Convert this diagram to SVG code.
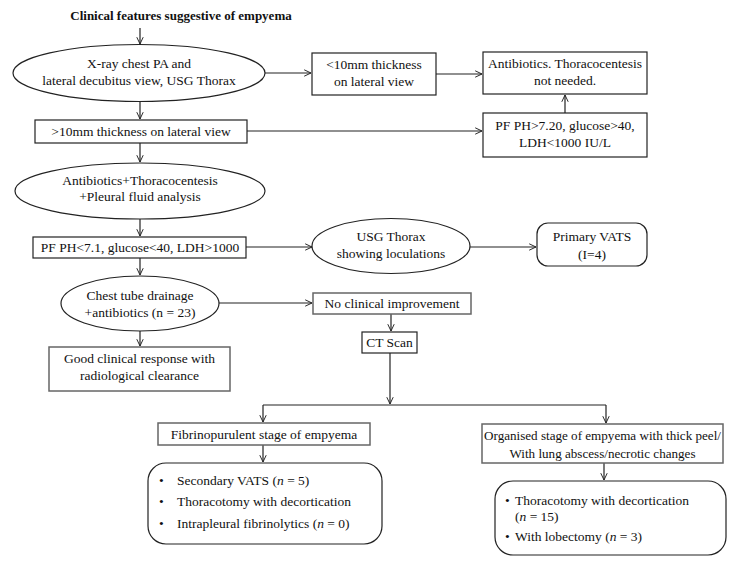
<svg xmlns="http://www.w3.org/2000/svg" width="738" height="564" viewBox="0 0 738 564">
<style>
text{font-family:"Liberation Serif","Times New Roman",serif;font-size:13.5px;fill:#111;text-anchor:middle}
.t{font-weight:bold;font-size:13px}
.s{font-size:13.1px}
.l{text-anchor:start}
.n{fill:#fff;stroke:#222;stroke-width:1.2}
.g{fill:#fff;stroke:#666;stroke-width:1.5}
.c{fill:none;stroke:#222;stroke-width:1.2}
</style>
<defs>
<marker id="a" viewBox="0 0 10 10" refX="9.5" refY="5" markerWidth="8" markerHeight="8" markerUnits="userSpaceOnUse" orient="auto">
<path d="M1,1 L9.5,5 L1,9" fill="none" stroke="#222" stroke-width="1.2"/>
</marker>
</defs>
<rect width="738" height="564" fill="#fff"/>
<g id="title"><text class="t" x="181" y="20">Clinical features suggestive of empyema</text></g>
<g id="connectors">
<path class="c" d="M140,28 V44" marker-end="url(#a)"/>
<path class="c" d="M265,73 H311" marker-end="url(#a)"/>
<path class="c" d="M436,74 H482" marker-end="url(#a)"/>
<path class="c" d="M565,113 V95" marker-end="url(#a)"/>
<path class="c" d="M140,102 V119" marker-end="url(#a)"/>
<path class="c" d="M247,131 H482" marker-end="url(#a)"/>
<path class="c" d="M140,143 V162" marker-end="url(#a)"/>
<path class="c" d="M140,219 V236" marker-end="url(#a)"/>
<path class="c" d="M246,247 H312" marker-end="url(#a)"/>
<path class="c" d="M470,247 H536" marker-end="url(#a)"/>
<path class="c" d="M140,258 V275" marker-end="url(#a)"/>
<path class="c" d="M219,303 H312" marker-end="url(#a)"/>
<path class="c" d="M391,314 V331" marker-end="url(#a)"/>
<path class="c" d="M140,331 V346" marker-end="url(#a)"/>
<path class="c" d="M390,353 V404" marker-end="url(#a)"/>
<path class="c" d="M263,405 H606"/>
<path class="c" d="M263,405 V422" marker-end="url(#a)"/>
<path class="c" d="M606,405 V423" marker-end="url(#a)"/>
<path class="c" d="M263,445 V462" marker-end="url(#a)"/>
<path class="c" d="M604,463 V480" marker-end="url(#a)"/>
</g>
<g id="xray"><ellipse class="n" cx="139" cy="73" rx="126" ry="28.5"/><text x="139" y="68">X-ray chest PA and</text><text x="139" y="85">lateral decubitus view, USG Thorax</text></g>
<g id="lt10"><rect class="n" x="312" y="53" width="124" height="42"/><text x="374" y="69">&lt;10mm thickness</text><text x="374" y="86">on lateral view</text></g>
<g id="antibiotics"><rect class="n" x="483" y="52" width="164" height="42"/><text x="565" y="68">Antibiotics. Thoracocentesis</text><text x="565" y="85">not needed.</text></g>
<g id="gt10"><rect class="n" x="35" y="120" width="212" height="23"/><text x="141" y="136">&gt;10mm thickness on lateral view</text></g>
<g id="pfhigh"><rect class="n" x="483" y="113" width="164" height="44"/><text x="565" y="130">PF PH&gt;7.20, glucose&gt;40,</text><text x="565" y="147">LDH&lt;1000 IU/L</text></g>
<g id="thoraco"><ellipse class="n" cx="140" cy="191" rx="125" ry="28"/><text x="140" y="185">Antibiotics+Thoracocentesis</text><text x="140" y="201">+Pleural fluid analysis</text></g>
<g id="pflow"><rect class="n" x="33" y="237" width="213" height="21"/><text x="140" y="252">PF PH&lt;7.1, glucose&lt;40, LDH&gt;1000</text></g>
<g id="usg"><ellipse class="n" cx="391" cy="246" rx="79" ry="27.5"/><text x="391" y="241">USG Thorax</text><text x="391" y="258">showing loculations</text></g>
<g id="vats"><rect class="n" x="537" y="223" width="110" height="43" rx="11"/><text x="592" y="241">Primary VATS</text><text x="592" y="259">(I=4)</text></g>
<g id="chesttube"><ellipse class="n" cx="140" cy="303.5" rx="79" ry="27.5"/><text x="140" y="300">Chest tube drainage</text><text x="140" y="317">+antibiotics (n = 23)</text></g>
<g id="noimp"><rect class="g" x="313" y="293" width="158" height="21"/><text x="392" y="308">No clinical improvement</text></g>
<g id="ct"><rect class="n" x="362" y="332" width="55" height="21"/><text x="389.5" y="347">CT Scan</text></g>
<g id="good"><rect class="g" x="49" y="347" width="181" height="44"/><text x="139.5" y="363">Good clinical response with</text><text x="139.5" y="380">radiological clearance</text></g>
<g id="fibrino"><rect class="g" x="158" y="423" width="212" height="22"/><text x="264" y="439">Fibrinopurulent stage of empyema</text></g>
<g id="list1"><rect class="n" x="148" y="463" width="234" height="81" rx="18"/>
<text class="l" x="159" y="485">•</text><text class="l" x="177" y="485">Secondary VATS (<tspan font-style="italic">n</tspan> = 5)</text>
<text class="l" x="159" y="506">•</text><text class="l" x="177" y="506">Thoracotomy with decortication</text>
<text class="l" x="159" y="528">•</text><text class="l" x="177" y="528">Intrapleural fibrinolytics (<tspan font-style="italic">n</tspan> = 0)</text></g>
<g id="organised"><rect class="g" x="482" y="424" width="241" height="39"/><text class="s" x="602.5" y="440">Organised stage of empyema with thick peel/</text><text class="s" x="602.5" y="458">With lung abscess/necrotic changes</text></g>
<g id="list2"><rect class="n" x="495" y="481" width="231" height="74" rx="18"/>
<text class="l" x="505" y="505">•</text><text class="l" x="515" y="505">Thoracotomy with decortication</text>
<text class="l" x="515" y="521">(<tspan font-style="italic">n</tspan> = 15)</text>
<text class="l" x="505" y="541">•</text><text class="l" x="515" y="541">With lobectomy (<tspan font-style="italic">n</tspan> = 3)</text></g>
</svg>
